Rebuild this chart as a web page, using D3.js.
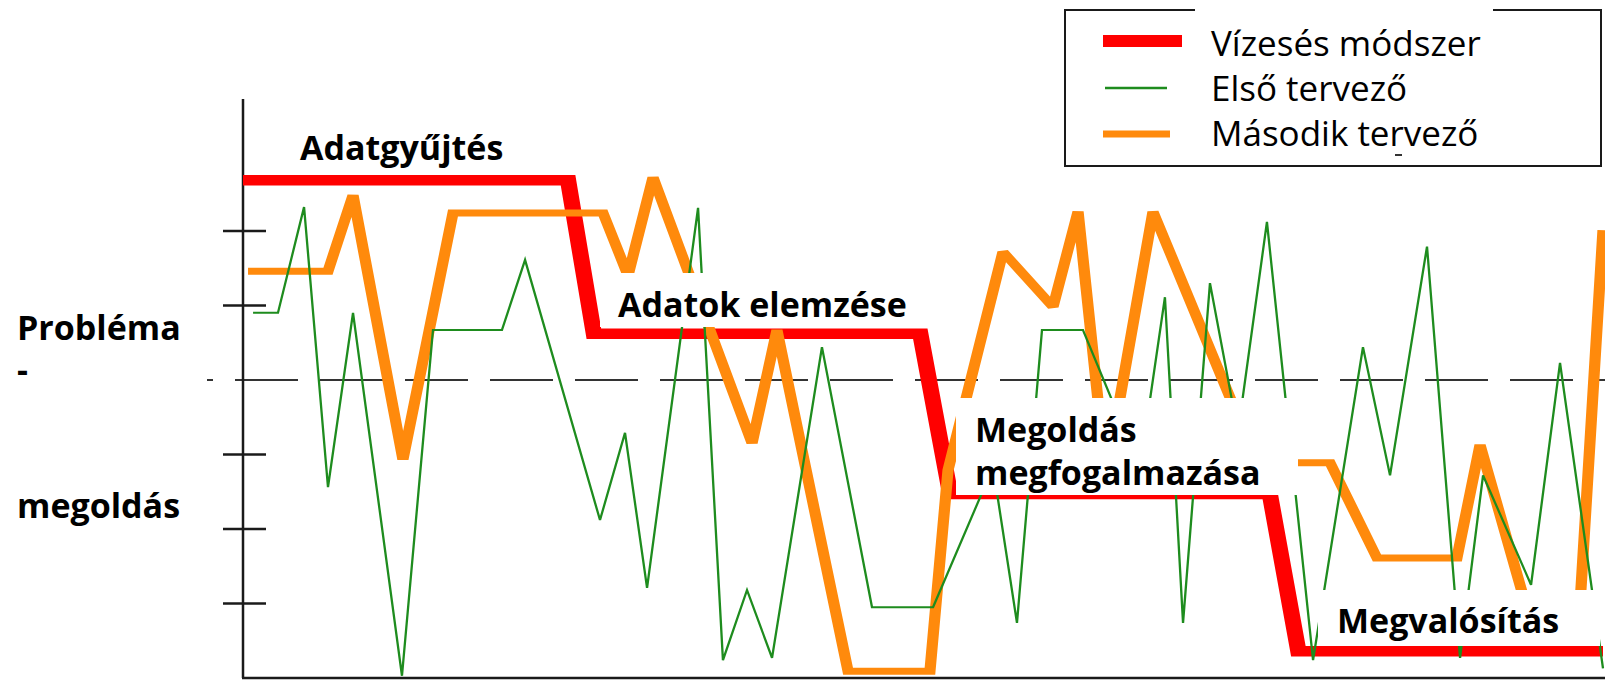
<!DOCTYPE html>
<html><head><meta charset="utf-8">
<script src="https://cdn.jsdelivr.net/npm/d3@7"></script>
<style>html,body{margin:0;padding:0;background:#fff;overflow:hidden;} svg{display:block;}</style>
</head><body>
<svg id="chart" width="1605" height="681"></svg>
<script>
// ---------- data ----------
const seriesNames = ["Vízesés módszer", "Első tervező", "Második tervező"];

// Vízesés módszer (waterfall)
const waterfallT = [0, 23.9, 25.8, 49.8, 52.0, 75.5, 77.6, 100];
const waterfallV = [6.68, 6.68, 4.62, 4.62, 2.47, 2.47, 0.36, 0.36];

// Első tervező
const firstT = [0.74, 2.57, 4.49, 6.25, 8.09, 11.69, 13.97, 19.04, 20.74, 26.25, 28.09, 29.71, 33.46, 35.29, 37.06, 38.90, 42.57, 46.25, 50.74, 55.15, 56.91, 58.75, 61.76, 65.96, 67.79, 69.12, 71.10, 73.16, 75.29, 78.68, 82.35, 84.34, 87.06, 89.49, 91.18, 94.71, 96.84, 100];
const firstV = [4.90, 4.90, 6.32, 2.56, 4.90, 0.03, 4.67, 4.67, 5.61, 2.12, 3.29, 1.21, 6.31, 0.24, 1.18, 0.27, 4.44, 0.95, 0.95, 2.83, 0.74, 4.67, 4.67, 2.82, 5.11, 0.74, 5.30, 3.30, 6.12, 0.24, 4.44, 2.72, 5.79, 0.27, 2.72, 1.25, 4.23, 0.13];

// Második tervező
const secondT = [0.37, 6.25, 8.09, 11.76, 15.44, 26.47, 28.31, 30.15, 37.43, 39.26, 44.49, 50.51, 51.84, 55.88, 59.56, 61.40, 63.46, 66.91, 74.56, 79.93, 83.38, 89.26, 90.96, 94.63, 98.24, 100];
const secondV = [5.46, 5.46, 6.48, 2.93, 6.24, 6.24, 5.40, 6.72, 3.15, 4.67, 0.09, 0.09, 2.79, 5.72, 4.98, 6.26, 2.70, 6.26, 2.89, 2.89, 1.61, 1.61, 3.13, 0.78, 0.78, 6.01];

const yTickValues = [1, 2, 3, 5, 6];
const midlineValue = 4;
const yMax = 7.77;
const phaseLabels = [["Adatgyűjtés"], ["Adatok elemzése"], ["Megoldás", "megfogalmazása"], ["Megvalósítás"]];
const axisTitleLines = ["Probléma", "-", "megoldás"];

// ---------- layout ----------
const svg = d3.select("#chart");
const W = 1605, H = 681;
const x = d3.scaleLinear().domain([0, 100]).range([243, 1603]);
const y = d3.scaleLinear().domain([0, yMax]).range([678, 99]);
const toPts = (ts, vs) => ts.map((t, i) => ({t, v: vs[i]}));

const RED = "#ff0000", GREEN = "#1e8c1e", ORANGE = "#ff8a0c", INK = "#1a1a1a";

// draws a series with a horizontally stretched pen (like the original bitmap)
function drawSeries(ts, vs, color, width, sx, miter) {
  const gen = d3.line().x(d => x(d.t) / sx).y(d => y(d.v));
  svg.append("g").attr("transform", `scale(${sx},1)`)
    .append("path").datum(toPts(ts, vs)).attr("d", gen)
    .attr("fill", "none").attr("stroke", color).attr("stroke-width", width)
    .attr("stroke-linejoin", "miter").attr("stroke-miterlimit", miter);
}

// dashed midline
svg.append("line")
  .attr("x1", 207).attr("x2", W)
  .attr("y1", y(midlineValue)).attr("y2", y(midlineValue))
  .attr("stroke", "#333").attr("stroke-width", 2)
  .attr("stroke-dasharray", "63,22").attr("stroke-dashoffset", 57);

// axes
svg.append("line").attr("x1", x(0)).attr("x2", x(0)).attr("y1", y(yMax)).attr("y2", y(0))
  .attr("stroke", INK).attr("stroke-width", 2.5);
svg.append("line").attr("x1", x(0) - 1).attr("x2", W).attr("y1", y(0)).attr("y2", y(0))
  .attr("stroke", INK).attr("stroke-width", 2.5);
svg.selectAll(".tick").data(yTickValues).enter().append("line")
  .attr("class", "tick")
  .attr("x1", x(0) - 20).attr("x2", x(0) + 23)
  .attr("y1", d => y(d)).attr("y2", d => y(d))
  .attr("stroke", INK).attr("stroke-width", 2.5);

// series lines
drawSeries(waterfallT, waterfallV, RED, 10.5, 1.55, 4);
drawSeries(secondT, secondV, ORANGE, 7, 1.6, 3);
drawSeries(firstT, firstV, GREEN, 2, 1.15, 4);

// phase labels with white backing boxes
const labelFont = "'Open Sans', 'DejaVu Sans', sans-serif";
const phaseLayout = [
  {box: null, x: 300, y: [160]},
  {box: [600, 273, 325, 54], x: 618, y: [317]},
  {box: [956, 398, 342, 97], x: 975, y: [442, 485]},
  {box: [1318, 590, 282, 56], x: 1337, y: [633]}
];
phaseLabels.forEach((lines, i) => {
  const L = phaseLayout[i];
  if (L.box) {
    svg.append("rect").attr("x", L.box[0]).attr("y", L.box[1]).attr("width", L.box[2]).attr("height", L.box[3]).attr("fill", "#fff");
  }
  lines.forEach((s, j) => {
    svg.append("text").attr("x", L.x).attr("y", L.y[j]).text(s)
      .attr("font-family", labelFont).attr("font-weight", 700).attr("font-size", 34).attr("fill", "#000");
  });
});

// left axis title
const titleY = [340, 382, 518];
axisTitleLines.forEach((s, j) => {
  svg.append("text").attr("x", 17).attr("y", titleY[j]).text(s)
    .attr("font-family", labelFont).attr("font-weight", 700).attr("font-size", 34).attr("fill", "#000");
});

// legend
const lg = svg.append("g");
lg.append("rect").attr("x", 1065).attr("y", 10).attr("width", 536).attr("height", 156)
  .attr("fill", "#fff").attr("stroke", INK).attr("stroke-width", 2);
lg.append("line").attr("x1", 1195).attr("x2", 1493).attr("y1", 10).attr("y2", 10).attr("stroke", "#fff").attr("stroke-width", 3);
const legendStyle = [
  {color: RED, w: 12, x1: 1103, x2: 1182, ly: 41, ty: 56},
  {color: GREEN, w: 2.5, x1: 1105, x2: 1167, ly: 88, ty: 101},
  {color: ORANGE, w: 7, x1: 1103, x2: 1170, ly: 134, ty: 146}
];
seriesNames.forEach((name, i) => {
  const s = legendStyle[i];
  lg.append("line").attr("x1", s.x1).attr("x2", s.x2).attr("y1", s.ly).attr("y2", s.ly)
    .attr("stroke", s.color).attr("stroke-width", s.w);
  lg.append("text").attr("x", 1211).attr("y", s.ty).text(name)
    .attr("font-family", labelFont).attr("font-size", 35).attr("fill", "#000");
});
lg.append("rect").attr("x", 1395).attr("y", 154).attr("width", 7).attr("height", 2).attr("fill", "#333");
</script>
</body></html>
